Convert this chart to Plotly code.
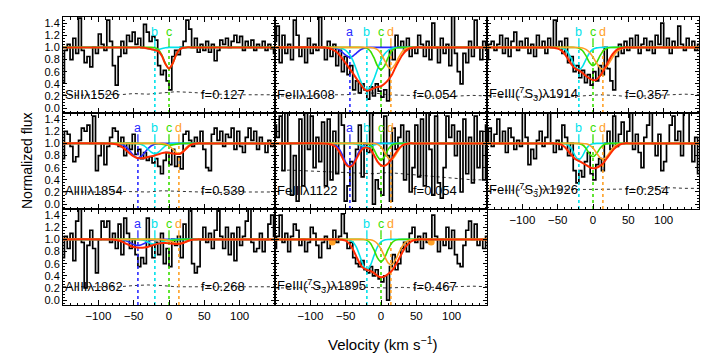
import plotly.graph_objects as go

# ---------------- data ----------------
VEL = list(range(-150, 151, 4))          # spectrum pixel velocities (km/s)
MODEL_VEL = list(range(-80, 61, 5))      # model sampling velocities (km/s)
ERR_VEL = list(range(-150, 151, 20))     # error spectrum sampling
COMP_VEL = {"a": -44, "b": -20, "c": 0, "d": 14}
COMP_COLOR = {"a": "#2a2aff", "b": "#00e2ea", "c": "#3ade00", "d": "#ffa126"}
RED = "#ff2a00"

LABELS = ["SiIIλ1526", "FeIIλ1608", "FeIII(<sup>7</sup>S<sub>3</sub>)λ1914",
          "AlIIIλ1854", "FeIIIλ1122", "FeIII(<sup>7</sup>S<sub>3</sub>)λ1926",
          "AlIIIλ1862", "FeIII(<sup>7</sup>S<sub>3</sub>)λ1895"]
F_VALUES = ["0.127", "0.054", "0.357", "0.539", "0.054", "0.254", "0.268", "0.467"]
COMPONENTS = [["b", "c"], ["a", "b", "c", "d"], ["b", "c", "d"], ["a", "b", "c", "d"],
              ["a", "b", "c", "d"], ["b", "c", "d"], ["a", "b", "c", "d"], ["b", "c", "d"]]

SPEC_SIII_1526 = [0.42, 0.95, 1.05, 0.8, 1.15, 0.9, 1.48, 0.95, 0.75, 0.85, 0.68, 1.0, 0.9, 1.22, 1.05, 0.95,
                  1.45, 1.1, 0.7, 0.38, 0.85, 1.1, 0.9, 1.2, 1.1, 1.25, 1.05, 1.15, 1.0, 1.38, 1.25, 1.1,
                  1.18, 1.12, 0.7, 0.55, 0.62, 0.45, 0.3, 0.85, 0.95, 0.88, 1.0, 1.1, 1.45, 1.3, 1.0, 1.15,
                  0.92, 1.05, 0.95, 1.1, 0.92, 1.05, 0.78, 0.95, 1.12, 1.05, 1.15, 1.0, 1.1, 1.2, 1.08, 1.18,
                  0.95, 1.1, 1.0, 1.12, 0.95, 1.05, 1.0, 1.1, 0.95, 1.05, 0.98, 0.9]
SPEC_FEII_1608 = [1.1, 1.35, 0.75, 1.2, 0.9, 1.05, 0.8, 1.45, 1.2, 0.85, 1.0, 0.75, 1.15, 0.9, 1.05, 0.95,
                  1.5, 1.0, 0.8, 1.1, 0.85, 1.05, 0.7, 0.95, 0.6, 0.85, 0.55, 0.7, 0.3, 0.45, 0.25, 0.4,
                  0.3, 0.15, 0.35, 0.2, 0.4, 0.28, 0.18, 0.3, 0.12, 0.95, 0.8, 1.2, 1.0, 1.1, 0.95, 1.15,
                  0.85, 1.0, 0.9, 1.2, 1.05, 0.85, 1.1, 0.8, 1.4, 1.0, 0.75, 1.15, 0.9, 1.05, 0.7, 1.55,
                  0.9, 0.6, 0.4, 0.9, 0.75, 1.1, 0.85, 1.45, 1.0, 0.8, 1.1, 0.95]
SPEC_FEIII_1914 = [0.8, 1.05, 1.1, 0.95, 1.05, 1.2, 0.9, 1.15, 0.85, 1.1, 1.25, 0.95, 1.1, 1.0, 1.15, 0.9,
                   1.05, 0.85, 1.2, 1.0, 1.1, 0.9, 1.15, 1.0, 1.45, 1.0, 1.1, 0.9, 1.15, 0.75, 0.85, 0.6,
                   0.7, 0.5, 0.62, 0.42, 0.55, 0.38, 0.6, 0.45, 0.7, 0.55, 1.0, 0.65, 0.45, 0.3, 0.85, 1.05,
                   0.9, 1.1, 0.95, 1.15, 1.0, 1.2, 0.9, 1.05, 1.15, 0.95, 1.1, 0.9, 1.2, 1.05, 1.4, 1.0,
                   1.15, 0.9, 1.1, 1.0, 1.35, 1.05, 0.95, 1.15, 1.0, 1.1, 0.95, 1.05]
SPEC_ALIII_1854 = [0.75, 1.2, 1.15, 0.95, 0.7, 0.78, 1.05, 1.25, 1.2, 1.3, 1.0, 1.45, 0.55, 0.8, 1.0, 0.65,
                   0.95, 1.1, 1.25, 1.2, 0.95, 1.1, 0.8, 1.0, 0.9, 1.15, 0.82, 0.9, 0.75, 0.85, 0.72, 0.78,
                   0.68, 0.75, 0.62, 0.5, 0.72, 0.85, 0.65, 0.9, 0.62, 0.78, 0.58, 1.15, 1.2, 1.05, 0.95, 1.1,
                   1.0, 1.2, 0.9, 0.6, 0.55, 1.15, 1.25, 1.05, 1.2, 0.95, 1.15, 1.1, 1.25, 0.9, 1.2, 0.95,
                   0.85, 1.1, 1.25, 1.05, 1.2, 0.9, 1.1, 1.0, 0.85, 1.05, 0.95, 1.0]
SPEC_FEIII_1122 = [1.3, 1.1, 1.45, 0.55, 1.6, 1.0, 0.15, 0.8, 0.05, 1.4, 0.3, 1.6, 0.9, 1.45, 0.6, 1.1,
                   0.7, 1.35, 0.3, 1.4, 0.4, 1.2, 0.5, 1.6, 1.3, 0.05, 0.3, 0.7, 0.05, 0.9, 1.3, 0.45,
                   1.0, 0.85, 1.6, 0.0, 0.4, 0.25, 0.15, 1.45, 0.8, 0.05, 1.25, 0.9, 1.1, 1.3, 0.4, 1.2,
                   0.2, 0.6, 1.3, 0.45, 1.4, 0.3, 1.6, 0.9, 0.15, 1.45, 0.35, 0.1, 0.6, 1.45, 1.1, 1.3,
                   0.8, 1.2, 0.2, 1.4, 0.5, 1.1, 0.35, 1.45, 0.6, 1.2, 0.4, 1.3]
SPEC_FEIII_1926 = [1.0, 1.25, 0.95, 1.15, 1.4, 1.0, 1.2, 0.85, 1.25, 1.1, 0.9, 1.05, 0.95, 1.6, 1.1, 0.65,
                   0.9, 0.75, 1.05, 1.2, 0.95, 1.1, 1.6, 1.0, 0.85, 1.05, 0.9, 1.3, 1.1, 0.8, 1.0, 0.55,
                   0.35, 0.55, 0.45, 0.7, 0.85, 0.5, 0.4, 0.65, 0.75, 0.55, 1.0, 1.2, 0.9, 1.45, 0.95, 1.15,
                   1.35, 1.0, 1.2, 1.5, 0.9, 1.15, 0.85, 0.6, 1.1, 1.3, 1.6, 1.0, 0.8, 1.15, 0.55, 0.7,
                   1.0, 1.3, 1.45, 1.05, 1.2, 0.8, 1.6, 1.55, 1.0, 0.7, 1.1, 0.5]
SPEC_ALIII_1862 = [0.7, 1.05, 0.85, 1.1, 0.65, 1.3, 1.6, 0.95, 0.2, 0.9, 1.15, 0.85, 0.45, 1.0, 1.3, 1.2,
                   1.3, 0.95, 1.1, 0.85, 1.25, 0.75, 1.35, 1.1, 0.85, 1.0, 0.75, 0.55, 0.7, 0.6, 1.35, 0.9,
                   0.7, 0.95, 0.75, 1.1, 0.6, 0.85, 0.55, 1.0, 0.9, 1.05, 0.7, 1.25, 1.0, 1.6, 0.6, 0.45,
                   0.55, 1.0, 1.2, 0.95, 1.1, 0.85, 1.15, 1.6, 1.05, 0.85, 1.2, 0.75, 1.1, 0.65, 1.2, 0.9,
                   1.05, 1.3, 1.6, 0.95, 0.8, 0.85, 1.1, 0.8, 1.0, 1.25, 1.4, 1.05]
SPEC_FEIII_1895 = [0.85, 1.05, 1.4, 0.95, 1.1, 0.8, 1.05, 1.25, 1.15, 0.9, 1.0, 0.8, 0.95, 1.2, 1.1, 0.9,
                   0.7, 0.95, 1.05, 0.85, 1.0, 1.15, 0.95, 1.05, 1.42, 1.1, 0.85, 0.95, 0.7, 0.6, 0.55, 0.65,
                   0.5, 0.45, 0.55, 0.4, 0.5, 0.35, 0.3, 0.4, 0.0, 0.55, 0.75, 0.5, 0.6, 0.85, 0.95, 0.8,
                   1.1, 1.2, 0.95, 1.05, 0.85, 1.1, 0.95, 1.0, 1.4, 1.05, 0.8, 1.0, 0.9, 1.2, 0.85, 1.15,
                   0.75, 0.6, 0.55, 0.9, 1.15, 1.3, 1.0, 1.25, 0.9, 1.0, 0.85, 1.05]

ERR_SIII_1526 = [0.22, 0.21, 0.22, 0.23, 0.22, 0.24, 0.23, 0.25, 0.27, 0.26, 0.24, 0.23, 0.22, 0.22, 0.21, 0.22]
ERR_FEII_1608 = [0.2, 0.2, 0.21, 0.2, 0.22, 0.22, 0.24, 0.25, 0.22, 0.21, 0.2, 0.19, 0.19, 0.2, 0.21, 0.2]
ERR_FEIII_1914 = [0.2, 0.19, 0.18, 0.18, 0.19, 0.2, 0.19, 0.2, 0.22, 0.21, 0.19, 0.2, 0.21, 0.22, 0.23, 0.22]
ERR_ALIII_1854 = [0.2, 0.2, 0.19, 0.2, 0.21, 0.2, 0.2, 0.22, 0.21, 0.2, 0.2, 0.19, 0.2, 0.2, 0.21, 0.2]
ERR_FEIII_1122 = [0.55, 0.56, 0.55, 0.54, 0.52, 0.52, 0.5, 0.5, 0.52, 0.5, 0.48, 0.45, 0.43, 0.42, 0.4, 0.4]
ERR_FEIII_1926 = [0.22, 0.22, 0.23, 0.24, 0.25, 0.25, 0.24, 0.24, 0.25, 0.25, 0.24, 0.25, 0.26, 0.27, 0.26, 0.26]
ERR_ALIII_1862 = [0.22, 0.22, 0.22, 0.23, 0.22, 0.24, 0.25, 0.24, 0.22, 0.22, 0.22, 0.23, 0.22, 0.22, 0.23, 0.22]
ERR_FEIII_1895 = [0.2, 0.2, 0.21, 0.2, 0.21, 0.22, 0.21, 0.2, 0.2, 0.21, 0.2, 0.21, 0.22, 0.22, 0.23, 0.22]

# model curves sampled at MODEL_VEL (continuum = 1 outside)
ONE = 1.0
M1_B = [1, 1, 1, 1, 1, 1, 1, 1, 1, 0.993, 0.98, 0.968, 0.96, 0.968, 0.98, 0.993, 1, 1, 1, 1, 1, 1, 1, 1, 1, 1, 1, 1, 1]
M1_C = [1, 1, 1, 1, 1, 1, 1, 1, 1, 1, 1, 1, 0.994, 0.965, 0.874, 0.73, 0.65, 0.73, 0.874, 0.965, 0.994, 1, 1, 1, 1, 1, 1, 1, 1]
M1_TOT = [1, 1, 1, 1, 1, 1, 1, 1, 1, 0.993, 0.98, 0.968, 0.954, 0.934, 0.857, 0.725, 0.65, 0.73, 0.874, 0.965, 0.994, 1, 1, 1, 1, 1, 1, 1, 1]

M2_A = [1, 1, 0.998, 0.989, 0.967, 0.924, 0.871, 0.84, 0.855, 0.903, 0.953, 0.982, 0.996, 1, 1, 1, 1, 1, 1, 1, 1, 1, 1, 1, 1, 1, 1, 1, 1]
M2_B = [1, 1, 1, 0.998, 0.994, 0.981, 0.952, 0.89, 0.79, 0.64, 0.48, 0.35, 0.3, 0.35, 0.48, 0.64, 0.79, 0.89, 0.952, 0.981, 0.994, 0.998, 1, 1, 1, 1, 1, 1, 1]
M2_C = [1, 1, 1, 1, 1, 1, 1, 1, 1, 1, 1, 0.997, 0.984, 0.936, 0.83, 0.695, 0.63, 0.695, 0.83, 0.936, 0.984, 0.997, 1, 1, 1, 1, 1, 1, 1]
M2_D = [1, 1, 1, 1, 1, 1, 1, 1, 1, 1, 1, 1, 1, 0.999, 0.99, 0.962, 0.896, 0.788, 0.68, 0.652, 0.72, 0.834, 0.928, 0.977, 0.995, 1, 1, 1, 1]
M2_TOT = [1.0, 0.99, 0.97, 0.94, 0.89, 0.82, 0.74, 0.66, 0.58, 0.49, 0.41, 0.33, 0.285, 0.3, 0.33, 0.35, 0.36, 0.4, 0.46, 0.54, 0.66, 0.77, 0.87, 0.94, 0.98, 0.995, 1, 1, 1]

M3_B = [1, 1, 1, 1, 1, 1, 0.999, 0.992, 0.969, 0.908, 0.8, 0.683, 0.63, 0.683, 0.8, 0.908, 0.969, 0.992, 0.999, 1, 1, 1, 1, 1, 1, 1, 1, 1, 1]
M3_C = [1, 1, 1, 1, 1, 1, 1, 1, 1, 1, 1, 0.998, 0.987, 0.948, 0.863, 0.753, 0.7, 0.753, 0.863, 0.948, 0.987, 0.998, 1, 1, 1, 1, 1, 1, 1]
M3_D = [1, 1, 1, 1, 1, 1, 1, 1, 1, 1, 1, 0.999, 0.997, 0.989, 0.967, 0.919, 0.839, 0.743, 0.663, 0.641, 0.69, 0.782, 0.874, 0.942, 0.978, 0.993, 0.998, 1, 1]
M3_TOT = [1, 1, 1, 1, 1.0, 0.995, 0.98, 0.95, 0.89, 0.8, 0.71, 0.65, 0.62, 0.58, 0.53, 0.49, 0.46, 0.47, 0.53, 0.62, 0.73, 0.84, 0.92, 0.97, 0.99, 1, 1, 1, 1]

M4_A = [1, 0.998, 0.992, 0.974, 0.933, 0.87, 0.8, 0.76, 0.78, 0.84, 0.91, 0.961, 0.986, 0.996, 1, 1, 1, 1, 1, 1, 1, 1, 1, 1, 1, 1, 1, 1, 1]
M4_B = [1, 1, 1, 1, 1, 1, 1, 0.996, 0.986, 0.958, 0.908, 0.854, 0.83, 0.854, 0.908, 0.958, 0.986, 0.996, 1, 1, 1, 1, 1, 1, 1, 1, 1, 1, 1]
M4_C = [1, 1, 1, 1, 1, 1, 1, 1, 1, 1, 1, 1, 1, 0.995, 0.986, 0.975, 0.97, 0.975, 0.986, 0.995, 1, 1, 1, 1, 1, 1, 1, 1, 1]
M4_D = [1, 1, 1, 1, 1, 1, 1, 1, 1, 1, 1, 1, 1, 1, 1, 0.99, 0.963, 0.91, 0.85, 0.83, 0.872, 0.937, 0.977, 0.994, 1, 1, 1, 1, 1]
M4_TOT = [0.995, 0.985, 0.965, 0.93, 0.88, 0.83, 0.785, 0.76, 0.755, 0.76, 0.775, 0.79, 0.8, 0.82, 0.84, 0.85, 0.845, 0.835, 0.825, 0.825, 0.86, 0.92, 0.97, 0.995, 1, 1, 1, 1, 1]

M5_A = [1, 0.999, 0.994, 0.975, 0.924, 0.82, 0.69, 0.623, 0.657, 0.77, 0.887, 0.959, 0.99, 0.998, 1, 1, 1, 1, 1, 1, 1, 1, 1, 1, 1, 1, 1, 1, 1]
M5_B = [1, 1, 1, 1, 1, 1, 1, 1, 1, 0.99, 0.973, 0.951, 0.94, 0.951, 0.973, 0.99, 0.997, 1, 1, 1, 1, 1, 1, 1, 1, 1, 1, 1, 1]
M5_C = [1, 1, 1, 1, 1, 1, 1, 1, 1, 1, 1, 1, 0.995, 0.972, 0.9, 0.783, 0.72, 0.783, 0.9, 0.972, 0.995, 1, 1, 1, 1, 1, 1, 1, 1]
M5_D = [1, 1, 1, 1, 1, 1, 1, 1, 1, 1, 1, 1, 1, 1, 1, 0.984, 0.942, 0.855, 0.762, 0.732, 0.796, 0.892, 0.964, 0.992, 1, 1, 1, 1, 1]
M5_TOT = [1.0, 0.995, 0.98, 0.95, 0.88, 0.77, 0.66, 0.615, 0.64, 0.74, 0.85, 0.92, 0.93, 0.9, 0.81, 0.7, 0.64, 0.63, 0.67, 0.74, 0.83, 0.91, 0.965, 0.99, 1, 1, 1, 1, 1]

M6_B = [1, 1, 1, 1, 1, 1, 1, 1, 0.995, 0.973, 0.903, 0.79, 0.73, 0.79, 0.903, 0.973, 0.995, 1, 1, 1, 1, 1, 1, 1, 1, 1, 1, 1, 1]
M6_C = [1, 1, 1, 1, 1, 1, 1, 1, 1, 1, 1, 1, 0.996, 0.978, 0.921, 0.829, 0.78, 0.829, 0.921, 0.978, 0.996, 1, 1, 1, 1, 1, 1, 1, 1]
M6_D = [1, 1, 1, 1, 1, 1, 1, 1, 1, 1, 1, 1, 1, 0.999, 0.993, 0.972, 0.923, 0.842, 0.764, 0.742, 0.792, 0.876, 0.946, 0.983, 0.996, 1, 1, 1, 1]
M6_TOT = [1, 1, 1, 1, 1, 1.0, 0.995, 0.98, 0.94, 0.87, 0.8, 0.74, 0.71, 0.68, 0.645, 0.61, 0.59, 0.6, 0.63, 0.68, 0.76, 0.84, 0.91, 0.96, 0.99, 1, 1, 1, 1]

M7_A = [1, 0.999, 0.997, 0.989, 0.972, 0.946, 0.916, 0.9, 0.908, 0.933, 0.962, 0.984, 0.994, 0.998, 1, 1, 1, 1, 1, 1, 1, 1, 1, 1, 1, 1, 1, 1, 1]
M7_B = [1, 1, 1, 1, 1, 1, 1, 1, 0.993, 0.98, 0.957, 0.931, 0.92, 0.931, 0.957, 0.98, 0.993, 0.998, 1, 1, 1, 1, 1, 1, 1, 1, 1, 1, 1]
M7_C = [1, 1, 1, 1, 1, 1, 1, 1, 1, 1, 1, 1, 1, 1, 0.991, 0.984, 0.98, 0.984, 0.991, 0.997, 1, 1, 1, 1, 1, 1, 1, 1, 1]
M7_D = [1, 1, 1, 1, 1, 1, 1, 1, 1, 1, 1, 1, 1, 1, 1, 0.992, 0.979, 0.958, 0.937, 0.931, 0.944, 0.967, 0.986, 0.995, 1, 1, 1, 1, 1]
M7_TOT = [0.997, 0.99, 0.977, 0.955, 0.925, 0.895, 0.875, 0.865, 0.862, 0.865, 0.875, 0.895, 0.915, 0.93, 0.94, 0.94, 0.935, 0.93, 0.925, 0.925, 0.94, 0.965, 0.985, 0.997, 1, 1, 1, 1, 1]

M8_B = [1, 1, 1, 1, 1, 1, 0.998, 0.99, 0.958, 0.876, 0.73, 0.572, 0.5, 0.572, 0.73, 0.876, 0.958, 0.99, 0.998, 1, 1, 1, 1, 1, 1, 1, 1, 1, 1]
M8_C = [1, 1, 1, 1, 1, 1, 1, 1, 1, 1, 1, 0.997, 0.984, 0.936, 0.83, 0.695, 0.63, 0.695, 0.83, 0.936, 0.984, 0.997, 1, 1, 1, 1, 1, 1, 1]
M8_D = [1, 1, 1, 1, 1, 1, 1, 1, 1, 1, 1, 1, 0.999, 0.994, 0.976, 0.928, 0.844, 0.719, 0.614, 0.582, 0.654, 0.772, 0.884, 0.953, 0.986, 0.997, 1, 1, 1]
M8_TOT = [1, 1, 1, 1, 1.0, 0.995, 0.98, 0.93, 0.84, 0.72, 0.6, 0.53, 0.5, 0.48, 0.45, 0.4, 0.375, 0.39, 0.43, 0.48, 0.56, 0.67, 0.78, 0.88, 0.94, 0.98, 0.995, 1, 1]

DOT_VEL_1895 = [-69, 71]
DOT_FLUX_1895 = [0.955, 0.955]

SPECTRA = [SPEC_SIII_1526, SPEC_FEII_1608, SPEC_FEIII_1914, SPEC_ALIII_1854,
           SPEC_FEIII_1122, SPEC_FEIII_1926, SPEC_ALIII_1862, SPEC_FEIII_1895]
ERRORS = [ERR_SIII_1526, ERR_FEII_1608, ERR_FEIII_1914, ERR_ALIII_1854,
          ERR_FEIII_1122, ERR_FEIII_1926, ERR_ALIII_1862, ERR_FEIII_1895]
MODELS = [
    {"b": M1_B, "c": M1_C, "tot": M1_TOT},
    {"a": M2_A, "b": M2_B, "c": M2_C, "d": M2_D, "tot": M2_TOT},
    {"b": M3_B, "c": M3_C, "d": M3_D, "tot": M3_TOT},
    {"a": M4_A, "b": M4_B, "c": M4_C, "d": M4_D, "tot": M4_TOT},
    {"a": M5_A, "b": M5_B, "c": M5_C, "d": M5_D, "tot": M5_TOT},
    {"b": M6_B, "c": M6_C, "d": M6_D, "tot": M6_TOT},
    {"a": M7_A, "b": M7_B, "c": M7_C, "d": M7_D, "tot": M7_TOT},
    {"b": M8_B, "c": M8_C, "d": M8_D, "tot": M8_TOT},
]

# ---------------- layout geometry ----------------
W, H = 709, 354
COL_X = [(63, 275), (275, 487), (487, 699)]
ROW_Y = [(17, 113), (113, 209), (209, 305)]
POS = [(0, 0), (0, 1), (0, 2), (1, 0), (1, 1), (1, 2), (2, 0), (2, 1)]
XLABEL_PANELS = {6, 7, 8}
YLABEL_PANELS = {1, 4, 7}
YMIN, YMAX = -0.08, 1.5
FONT = "Liberation Sans, Arial, Helvetica, sans-serif"

fig = go.Figure()
layout = {}
annotations = []

for i in range(8):
    n = i + 1
    suf = "" if n == 1 else str(n)
    xa, ya = "x" + suf, "y" + suf
    r, c = POS[i]
    x0, x1 = COL_X[c]
    y0, y1 = ROW_Y[r]

    layout["xaxis" + suf] = dict(
        domain=[x0 / W, x1 / W], anchor=ya, range=[-150, 150],
        showgrid=False, zeroline=False, showline=True, linecolor="black", linewidth=1,
        mirror="allticks", ticks="inside", ticklen=5, tickcolor="black", tickwidth=1,
        tickvals=[-100, -50, 0, 50, 100], showticklabels=(n in XLABEL_PANELS),
        tickfont=dict(family=FONT, size=11.5, color="black"),
        minor=dict(dtick=10, tick0=0, ticks="inside", ticklen=2.5, tickcolor="black", showgrid=False),
    )
    layout["yaxis" + suf] = dict(
        domain=[1 - y1 / H, 1 - y0 / H], anchor=xa, range=[YMIN, YMAX],
        showgrid=False, zeroline=False, showline=True, linecolor="black", linewidth=1,
        mirror="allticks", ticks="inside", ticklen=4, tickcolor="black", tickwidth=1,
        tickvals=[0, 0.2, 0.4, 0.6, 0.8, 1.0, 1.2, 1.4], tickformat=".1f",
        showticklabels=(n in YLABEL_PANELS),
        tickfont=dict(family=FONT, size=11, color="black"),
        minor=dict(dtick=0.05, tick0=0, ticks="inside", ticklen=2, tickcolor="black", showgrid=False),
    )

    # error spectrum
    fig.add_trace(go.Scatter(x=ERR_VEL, y=ERRORS[i], mode="lines", xaxis=xa, yaxis=ya,
                             line=dict(color="#333333", width=1, dash="dot"),
                             hoverinfo="skip", showlegend=False))
    # spectrum
    fig.add_trace(go.Scatter(x=VEL, y=SPECTRA[i], mode="lines", xaxis=xa, yaxis=ya,
                             line=dict(color="black", width=1.7, shape="hvh"),
                             hoverinfo="skip", showlegend=False))
    # component markers
    for comp in COMPONENTS[i]:
        v = COMP_VEL[comp]
        col = COMP_COLOR[comp]
        fig.add_trace(go.Scatter(x=[v, v], y=[YMIN, 1.03], mode="lines", xaxis=xa, yaxis=ya,
                                 line=dict(color=col, width=1.6, dash="dot"),
                                 hoverinfo="skip", showlegend=False))
        fig.add_trace(go.Scatter(x=[v, v], y=[1.03, 1.15], mode="lines", xaxis=xa, yaxis=ya,
                                 line=dict(color=col, width=1.3),
                                 hoverinfo="skip", showlegend=False))
        annotations.append(dict(x=v, y=1.25, xref=xa, yref=ya, text=comp, showarrow=False,
                                font=dict(family=FONT, size=12.5, color=col),
                                xanchor="center", yanchor="middle"))
    # orange dots
    if n == 8:
        fig.add_trace(go.Scatter(x=DOT_VEL_1895, y=DOT_FLUX_1895, mode="markers", xaxis=xa, yaxis=ya,
                                 marker=dict(color="#ffa126", size=7),
                                 hoverinfo="skip", showlegend=False))
    # model components
    mx = [-150] + MODEL_VEL + [150]
    for comp in COMPONENTS[i]:
        fig.add_trace(go.Scatter(x=mx, y=[ONE] + MODELS[i][comp] + [ONE], mode="lines",
                                 xaxis=xa, yaxis=ya,
                                 line=dict(color=COMP_COLOR[comp], width=1.6, shape="spline", smoothing=0.6),
                                 hoverinfo="skip", showlegend=False))
    fig.add_trace(go.Scatter(x=mx, y=[ONE] + MODELS[i]["tot"] + [ONE], mode="lines",
                             xaxis=xa, yaxis=ya,
                             line=dict(color=RED, width=2.0, shape="spline", smoothing=0.6),
                             hoverinfo="skip", showlegend=False))

    annotations.append(dict(x=-150, y=0.23, xref=xa, yref=ya, text=LABELS[i], showarrow=False,
                            font=dict(family=FONT, size=13, color="black"),
                            xanchor="left", yanchor="middle"))
    annotations.append(dict(x=110, y=0.23, xref=xa, yref=ya, text="f=" + F_VALUES[i], showarrow=False,
                            font=dict(family=FONT, size=13, color="black"),
                            xanchor="right", yanchor="middle"))

annotations.append(dict(x=27 / W, y=1 - 161 / H, xref="paper", yref="paper", text="Normalized flux",
                        textangle=-90, showarrow=False, font=dict(family=FONT, size=14, color="black"),
                        xanchor="center", yanchor="middle"))
annotations.append(dict(x=383 / W, y=1 - 343 / H, xref="paper", yref="paper",
                        text="Velocity (km s<sup>−1</sup>)", showarrow=False,
                        font=dict(family=FONT, size=15, color="black"),
                        xanchor="center", yanchor="middle"))

fig.update_layout(**layout)
fig.update_layout(width=W, height=H, margin=dict(l=0, r=0, t=0, b=0),
                  paper_bgcolor="white", plot_bgcolor="white",
                  annotations=annotations, showlegend=False)

fig.write_html("out.html", config={"displayModeBar": False},
               post_script="document.body.style.margin='0';document.body.style.overflow='hidden';")
